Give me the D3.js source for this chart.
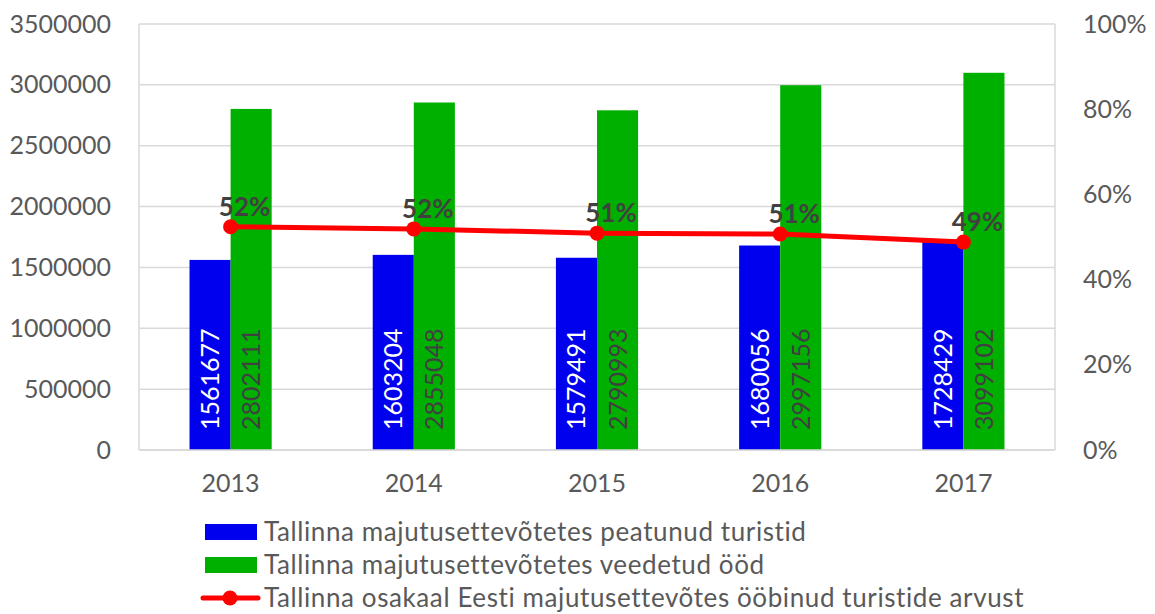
<!DOCTYPE html>
<html>
<head>
<meta charset="utf-8">
<script src="https://cdn.jsdelivr.net/npm/d3@7"></script>
<style>
  body { margin: 0; background: #fff; }
  svg { font-family: Lato, "Open Sans", sans-serif; }
</style>
</head>
<body>
<svg width="1155" height="614"></svg>
<script>
const years = ["2013", "2014", "2015", "2016", "2017"];
const tourists = [1561677, 1603204, 1579491, 1680056, 1728429];
const nights = [2802111, 2855048, 2790993, 2997156, 3099102];
const share = [0.524, 0.519, 0.509, 0.507, 0.488];
const shareLabels = ["52%", "52%", "51%", "51%", "49%"];
const leftTicks = [0, 500000, 1000000, 1500000, 2000000, 2500000, 3000000, 3500000];
const rightTicks = [0, 0.2, 0.4, 0.6, 0.8, 1];
const legendNames = [
  "Tallinna majutusettevõtetes peatunud turistid",
  "Tallinna majutusettevõtetes veedetud ööd",
  "Tallinna osakaal Eesti majutusettevõtes ööbinud turistide arvust"
];

const blue = "#0000ee", green = "#00b000", red = "#ff0000";
const grey = "#595959", grid = "#d9d9d9";

const plot = {left: 139, right: 1055, top: 24, bottom: 450};

const svg = d3.select("svg");

const x0 = d3.scaleBand().domain(years).range([plot.left, plot.right]).padding(0);
const x1 = d3.scaleBand().domain(["t", "n"]).range([0, x0.bandwidth()])
  .paddingInner(0).paddingOuter(1.23);
const y = d3.scaleLinear().domain([0, 3500000]).range([plot.bottom, plot.top]);
const y2 = d3.scaleLinear().domain([0, 1]).range([plot.bottom, plot.top]);

// gridlines
svg.append("g").selectAll("line").data(leftTicks).enter().append("line")
  .attr("x1", plot.left).attr("x2", plot.right)
  .attr("y1", d => y(d)).attr("y2", d => y(d))
  .attr("stroke", grid).attr("stroke-width", 1.5);

// plot border sides
svg.append("line").attr("x1", plot.left).attr("x2", plot.left)
  .attr("y1", plot.top).attr("y2", plot.bottom).attr("stroke", grid).attr("stroke-width", 1.5);
svg.append("line").attr("x1", plot.right).attr("x2", plot.right)
  .attr("y1", plot.top).attr("y2", plot.bottom).attr("stroke", grid).attr("stroke-width", 1.5);

// left axis
const leftAxis = svg.append("g")
  .attr("transform", `translate(${plot.left},0)`)
  .call(d3.axisLeft(y).tickValues(leftTicks).tickSize(0).tickPadding(28).tickFormat(d3.format("d")));
leftAxis.select(".domain").remove();
leftAxis.selectAll("text").attr("fill", grey).attr("font-size", "25px")
  .attr("font-family", "Lato, sans-serif");

// right axis
const rightAxis = svg.append("g")
  .attr("transform", `translate(${plot.right},0)`)
  .call(d3.axisRight(y2).tickValues(rightTicks).tickSize(0).tickPadding(28).tickFormat(d3.format(".0%")));
rightAxis.select(".domain").remove();
rightAxis.selectAll("text").attr("fill", grey).attr("font-size", "25px")
  .attr("font-family", "Lato, sans-serif");

// bottom axis
const bottomAxis = svg.append("g")
  .attr("transform", `translate(0,${plot.bottom})`)
  .call(d3.axisBottom(x0).tickSize(0).tickPadding(24));
bottomAxis.select(".domain").remove();
bottomAxis.selectAll("text").attr("fill", grey).attr("font-size", "25px")
  .attr("font-family", "Lato, sans-serif");

// bars
const groups = svg.append("g").selectAll("g").data(years).enter().append("g")
  .attr("transform", d => `translate(${x0(d)},0)`);

groups.append("rect")
  .attr("x", x1("t")).attr("width", x1.bandwidth())
  .attr("y", (d, i) => y(tourists[i]))
  .attr("height", (d, i) => y(0) - y(tourists[i]))
  .attr("fill", blue);

groups.append("rect")
  .attr("x", x1("n")).attr("width", x1.bandwidth())
  .attr("y", (d, i) => y(nights[i]))
  .attr("height", (d, i) => y(0) - y(nights[i]))
  .attr("fill", green);

// bar labels (rotated)
groups.append("text")
  .attr("transform", `translate(${x1("t") + x1.bandwidth() / 2 + 9},${plot.bottom - 20}) rotate(-90)`)
  .attr("fill", "#ffffff").attr("font-size", "25px")
  .text((d, i) => tourists[i]);

groups.append("text")
  .attr("transform", `translate(${x1("n") + x1.bandwidth() / 2 + 9},${plot.bottom - 20}) rotate(-90)`)
  .attr("fill", "#404040").attr("font-size", "25px")
  .text((d, i) => nights[i]);

// bottom axis line on top
svg.append("line").attr("x1", plot.left).attr("x2", plot.right)
  .attr("y1", plot.bottom).attr("y2", plot.bottom).attr("stroke", grid).attr("stroke-width", 1.5);

// share line
const cx = d => x0(d) + x0.bandwidth() / 2;
const line = d3.line().x((d, i) => cx(years[i])).y(d => y2(d));
svg.append("path").datum(share)
  .attr("d", line).attr("fill", "none").attr("stroke", red).attr("stroke-width", 5)
  .attr("stroke-linejoin", "round");

svg.append("g").selectAll("circle").data(share).enter().append("circle")
  .attr("cx", (d, i) => cx(years[i])).attr("cy", d => y2(d)).attr("r", 7.5)
  .attr("fill", red);

svg.append("g").selectAll("text").data(share).enter().append("text")
  .attr("x", (d, i) => cx(years[i]) + 14)
  .attr("y", d => y2(d) - 11)
  .attr("text-anchor", "middle")
  .attr("font-size", "26px").attr("font-weight", "bold").attr("fill", "#404040")
  .text((d, i) => shareLabels[i]);

// legend
const legend = svg.append("g");
const rowY = [532, 565, 598];
legend.append("rect").attr("x", 205).attr("y", rowY[0] - 8).attr("width", 52).attr("height", 16).attr("fill", blue);
legend.append("rect").attr("x", 205).attr("y", rowY[1] - 8).attr("width", 52).attr("height", 16).attr("fill", green);
legend.append("line").attr("x1", 203).attr("x2", 258).attr("y1", rowY[2]).attr("y2", rowY[2])
  .attr("stroke", red).attr("stroke-width", 5).attr("stroke-linecap", "round");
legend.append("circle").attr("cx", 230).attr("cy", rowY[2]).attr("r", 7.5).attr("fill", red);

legend.selectAll("text").data(legendNames).enter().append("text")
  .attr("x", 264).attr("y", (d, i) => rowY[i])
  .attr("dy", "0.35em")
  .attr("font-size", "26px").attr("letter-spacing", "0.6px").attr("fill", grey)
  .text(d => d);
</script>
</body>
</html>
